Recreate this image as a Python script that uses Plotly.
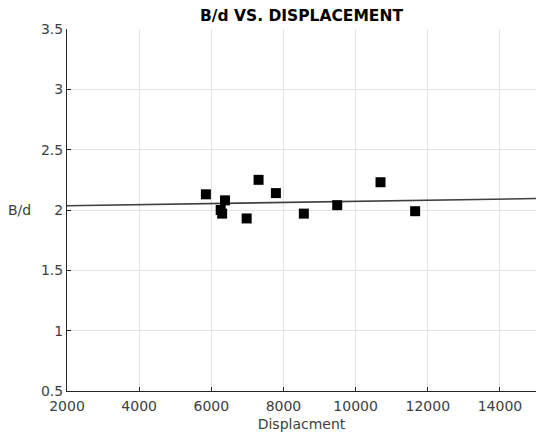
import plotly.graph_objects as go

displacement = [5850, 6380, 6260, 6300, 6980, 7310, 7790, 8565, 9490, 10690, 11650]
b_over_d = [2.13, 2.08, 2.00, 1.97, 1.93, 2.25, 2.14, 1.97, 2.04, 2.23, 1.99]
fit_x = [2000, 15000]
fit_y = [2.035, 2.095]
x_ticks = [2000, 4000, 6000, 8000, 10000, 12000, 14000]
y_ticks = [0.5, 1, 1.5, 2, 2.5, 3, 3.5]

fig = go.Figure()
fig.add_trace(go.Scatter(x=fit_x, y=fit_y, mode="lines",
                         line=dict(color="#404040", width=1.6), showlegend=False))
fig.add_trace(go.Scatter(x=displacement, y=b_over_d, mode="markers",
                         marker=dict(symbol="square", size=10, color="black"),
                         showlegend=False))

font = dict(family="DejaVu Sans", size=14, color="#404040")
fig.update_layout(
    width=536, height=436,
    margin=dict(l=67, r=0, t=29, b=45),
    paper_bgcolor="white", plot_bgcolor="white",
    font=font,
    title=dict(text="<b>B/d VS. DISPLACEMENT</b>", x=0.5, xref="paper", xanchor="center",
               y=1, yref="container", yanchor="top", pad=dict(t=10),
               font=dict(family="DejaVu Sans", size=15.5, color="black")),
    xaxis=dict(range=[2000, 15000], tickvals=x_ticks, ticktext=[str(v) for v in x_ticks],
               showgrid=True, gridcolor="#e3e3e3", gridwidth=1,
               showline=True, linecolor="#262626", linewidth=1,
               ticks="inside", ticklen=4, tickcolor="#262626", zeroline=False,
               ticklabelstandoff=2,
               title=dict(text="Displacment", standoff=6, font=font)),
    yaxis=dict(range=[0.5, 3.5], tickvals=y_ticks, ticktext=["0.5", "1", "1.5", "2", "2.5", "3", "3.5"],
               showgrid=True, gridcolor="#e3e3e3", gridwidth=1,
               showline=True, linecolor="#262626", linewidth=1,
               ticks="inside", ticklen=4, tickcolor="#262626", zeroline=False),
    annotations=[dict(text="B/d", xref="paper", yref="y", x=-0.072, y=2.0,
                      xanchor="right", yanchor="middle", showarrow=False, font=font)],
)

fig.write_html("out.html")
